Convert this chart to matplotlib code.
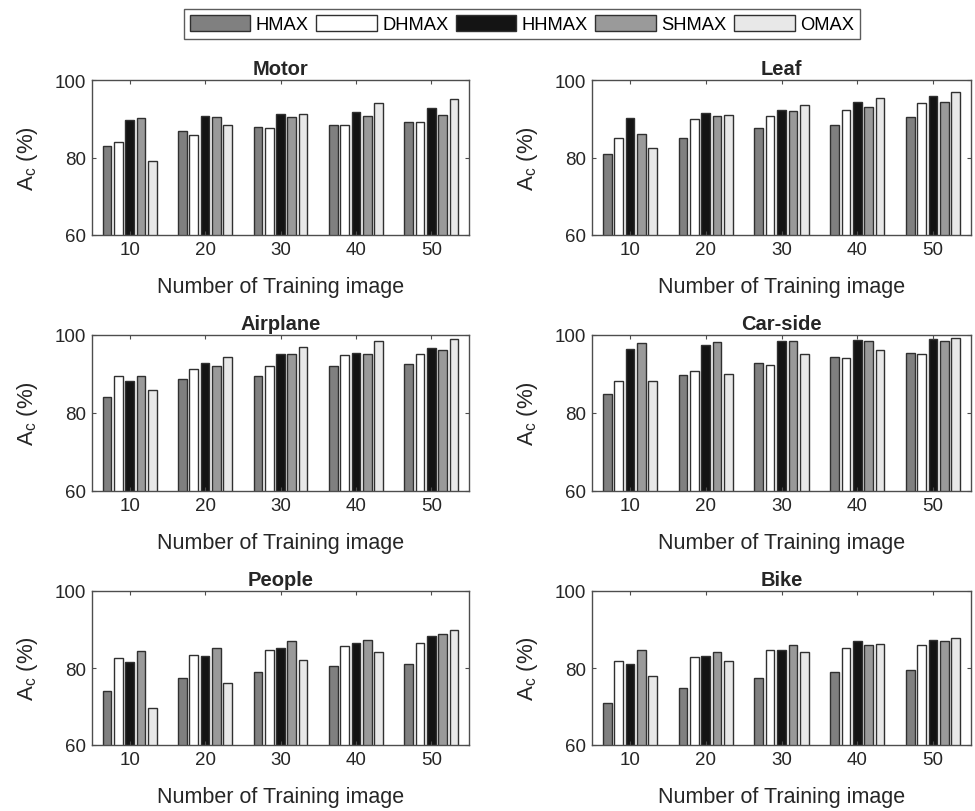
import numpy as np
import matplotlib.pyplot as plt
from matplotlib.patches import Patch

plt.rcParams['font.family'] = ['Liberation Sans', 'DejaVu Sans']

x_labels = [10, 20, 30, 40, 50]
methods = ['HMAX', 'DHMAX', 'HHMAX', 'SHMAX', 'OMAX']
colors = ['#808080', '#ffffff', '#141414', '#9a9a9a', '#e8e8e8']

titles = ['Motor', 'Leaf', 'Airplane', 'Car-side', 'People', 'Bike']

# rows: methods, columns: number of training images
motor = [[83.0, 86.8, 88.0, 88.3, 89.1],
         [84.1, 85.9, 87.7, 88.3, 89.1],
         [89.7, 90.8, 91.3, 91.7, 92.8],
         [90.2, 90.4, 90.5, 90.7, 90.9],
         [79.1, 88.4, 91.3, 94.1, 95.1]]
leaf = [[80.9, 85.0, 87.5, 88.4, 90.5],
        [85.0, 89.9, 90.8, 92.2, 94.1],
        [90.3, 91.6, 92.2, 94.2, 95.9],
        [86.1, 90.6, 91.9, 93.1, 94.2],
        [82.5, 90.9, 93.5, 95.3, 97.0]]
airplane = [[84.2, 88.6, 89.5, 92.0, 92.5],
            [89.5, 91.2, 92.0, 94.8, 95.1],
            [88.1, 92.8, 95.2, 95.4, 96.7],
            [89.5, 92.1, 95.2, 95.2, 96.1],
            [86.0, 94.4, 96.8, 98.4, 99.0]]
car_side = [[85.0, 89.7, 92.9, 94.3, 95.4],
            [88.1, 90.8, 92.3, 94.0, 95.1],
            [96.3, 97.4, 98.5, 98.8, 98.9],
            [98.0, 98.2, 98.4, 98.4, 98.5],
            [88.1, 89.9, 95.2, 96.1, 99.2]]
people = [[74.1, 77.4, 79.0, 80.5, 81.0],
          [82.5, 83.4, 84.7, 85.7, 86.6],
          [81.5, 83.1, 85.1, 86.6, 88.3],
          [84.3, 85.1, 86.9, 87.2, 88.8],
          [69.7, 76.2, 82.1, 84.2, 90.0]]
bike = [[70.9, 74.9, 77.4, 78.9, 79.4],
        [81.9, 82.9, 84.6, 85.3, 86.1],
        [81.0, 83.1, 84.7, 86.9, 87.2],
        [84.7, 84.1, 86.0, 86.1, 86.9],
        [77.9, 81.9, 84.1, 86.2, 87.9]]

datasets = [motor, leaf, airplane, car_side, people, bike]

W, H = 975, 812
fig = plt.figure(figsize=(W / 100, H / 100), dpi=100)

lefts = [92, 592]
rights = [469, 971]
tops = [81, 336, 592]
bottoms = [236, 492, 746]

edge = '#303030'
txt = '#262626'
x = np.array(x_labels, dtype=float)
offsets = [-3.0, -1.5, 0.0, 1.5, 3.0]
bw = 1.15

for k, (title, data) in enumerate(zip(titles, datasets)):
    r, c = divmod(k, 2)
    ax = fig.add_axes([lefts[c] / W, 1 - bottoms[r] / H,
                       (rights[c] - lefts[c]) / W, (bottoms[r] - tops[r]) / H])
    for m in range(5):
        ax.bar(x + offsets[m], data[m], width=bw, color=colors[m],
               edgecolor=edge, linewidth=1.0)
    ax.set_xlim(5, 55)
    ax.set_ylim(60, 100)
    ax.set_xticks(x_labels)
    ax.set_yticks([60, 80, 100])
    ax.tick_params(direction='in', length=3, top=True, right=True, pad=4,
                   labelsize=13.5, colors='#4d4d4d', labelcolor=txt, width=0.8)
    for s in ax.spines.values():
        s.set_color('#4d4d4d')
        s.set_linewidth(1.0)
    ax.set_title(title, fontsize=14.5, fontweight='bold', color=txt, pad=4)
    ax.set_xlabel('Number of Training image', fontsize=15.5, color=txt, labelpad=13)
    ax.set_ylabel('A$_\\mathregular{c}$ (%)', fontsize=16, color=txt, labelpad=11)

handles = [Patch(facecolor=colors[m], edgecolor=edge, label=methods[m]) for m in range(5)]
fig.legend(handles=handles, loc='center', bbox_to_anchor=(522 / W, 1 - 25 / H),
           ncol=5, fontsize=13.2, frameon=True, fancybox=False, edgecolor='#333333',
           handlelength=3.3, handleheight=1.0, handletextpad=0.3, columnspacing=0.4,
           borderpad=0.3)

plt.savefig('out.png', dpi=100)
